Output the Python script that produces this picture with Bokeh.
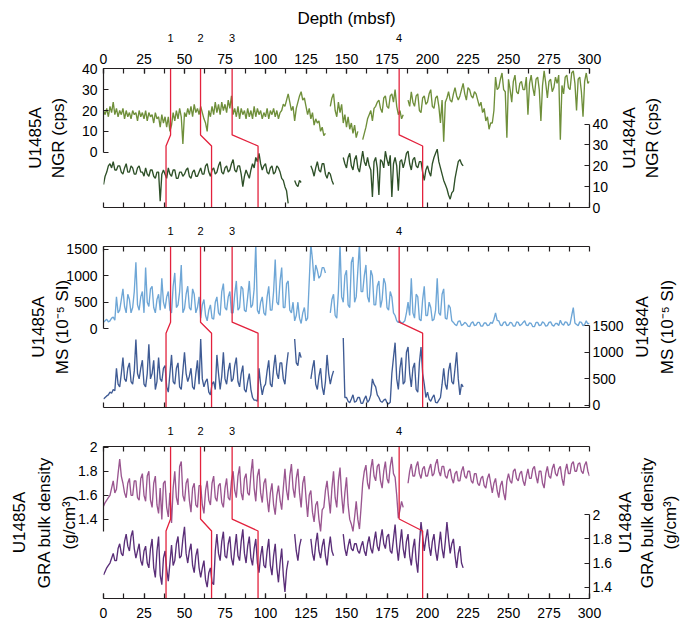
import math
from bokeh.plotting import figure
from bokeh.layouts import column, row
from bokeh.models import Range1d, LinearAxis, FixedTicker, Grid
from bokeh.embed import file_html
from bokeh.resources import INLINE

NaN = float("nan")
STEP = 1.0

# ---------------- data ----------------
ngr_u1485a = [
    20, 18, 21, 17, 22, 19, 24, 18, 21, 17,
    20, 18, 21, 16, 20, 17, 19, 16, 20, 18,
    19, 15, 20, 17, 19, 16, 20, 15, 19, 17,
    18, 14, 19, 16, 17, 12, 18, 14, 17, 12,
    17, 10, 13, 19, 15, 20, 16, 21, 17, 4,
    19, 17, 21, 18, 22, 17, 23, 19, 21, 18,
    22, 19, 16, 14, 10, 20, 17, 22, 18, 24,
    19, 23, 18, 24, 20, 23, 19, 25, 21, 27,
    18, 21, 17, 22, 16, 21, 18, 20, 16, 21,
    17, 20, 16, 22, 17, 21, 18, 20, 16, 19,
    17, 21, 16, 20, 18, 21, 17, 20, 16, 19,
    20, 23, 22, 25, 28, 24, 20, 22, 15, 21,
    24, 27, 29, 25, 26, 22, 18, 21, 16, 19,
    13, 16, 14, 15, 10, 12, 8, 9, NaN, NaN,
    22, 26, 28, 20, 17, 24, 19, 23, 14, 18,
    12, 17, 11, 14, 9, 13, 7, 10, NaN, NaN,
    6, 9, 12, 16, 18, 20, 15, 21, 22, 24,
    25, 21, 19, 26, 27, 22, 21, 27, 28, 24,
    30, 22, 18, 20, 16, 18, NaN, NaN, 25, 22,
    29, 24, 22, 27, 28, 20, 19, 26, 27, 23,
    24, 28, 30, 22, 21, 26, 27, 22, 14, 25,
    5, 24, 26, 29, 25, 24, 28, 31, 27, 25,
    27, 30, 33, 28, 25, 31, 30, 27, 26, 29,
    28, 25, 22, 24, 19, 21, 15, 17, 11, 14,
    14, 20, 36, 30, 31, 35, 38, 30, 29, 7,
    35, 30, 24, 34, 37, 29, 28, 33, 34, 30,
    30, 36, 18, 33, 37, 31, 27, 35, 36, 30,
    15, 32, 39, 33, 26, 34, 35, 29, 31, 36,
    33, 37, 6, 32, 28, 36, 37, 31, 30, 38,
    39, 33, 20, 35, 36, 29, 17, 34, 38, 33,
    34,
]
ngr_u1484a = [
    11, 15, 17, 20, 21, 19, 22, 18, 18, 20,
    20, 17, 16, 19, 21, 17, 17, 20, 19, 16,
    16, 19, 20, 17, 17, 15, 19, 16, 15, 18,
    18, 15, 14, 17, 17, 3, 16, 18, 16, 14,
    19, 16, 15, 18, 18, 14, 14, 17, 17, 15,
    16, 18, 19, 15, 14, 17, 18, 15, 15, 17,
    19, 16, 16, 20, 21, 17, 15, 18, 19, 16,
    17, 20, 22, 17, 16, 19, 20, 17, 18, 21,
    23, 18, 17, 20, 20, 16, 10, 15, 18, 16,
    14, 18, 21, 19, 24, 22, 26, 21, 18, 20,
    21, 17, 16, 19, 20, 16, 17, 20, 19, 17,
    14, 13, 10, 8, 2, NaN, NaN, NaN, 13, 11,
    10, 13, 12, NaN, NaN, NaN, NaN, NaN, 20, 18,
    15, 19, 22, 18, 17, 21, 21, 16, 14, 17,
    16, 13, 11, NaN, NaN, NaN, NaN, NaN, 24, 21,
    19, 24, 26, 20, 18, 23, 25, 19, 17, 22,
    27, 22, 20, 24, 20, 18, 5, 22, 24, 19,
    6, 23, 22, 19, 27, 23, 20, 25, 5, 21,
    24, 20, 8, 22, 23, 19, 22, 26, 27, 21,
    18, 23, 24, 20, 19, 22, 22, 17, 13, 18,
    20, 17, 15, 21, 24, 26, 28, 22, 19, 16,
    13, 11, 9, 6, 4, 7, 8, 14, 18, 22,
    23, 21, 20,
]
ms_u1485a = [
    126, 150, 180, 130, 150, 200, 220, 160, 600, 300,
    350, 550, 750, 420, 300, 650, 550, 300, 400, 700,
    1250, 450, 350, 600, 700, 300, 1150, 500, 420, 750,
    800, 400, 300, 550, 650, 350, 950, 500, 380, 600,
    700, 350, 300, 800, 1050, 400, 450, 700, 1200, 300,
    380, 650, 800, 400, 350, 750, 650, 300, 400, 600,
    200, 450, 550, 250, 150, 350, 450, 200, 180, 500,
    600, 300, 250, 700, 850, 400, 350, 600, 700, 300,
    300, 650, 900, 350, 400, 800, 750, 350, 320, 600,
    900, 400, 450, 750, 1600, 350, 280, 500, 600, 300,
    250, 600, 800, 350, 350, 700, 1300, 500, 450, 900,
    1150, 400, 400, 850, 900, 350, 300, 500, 150, 250,
    500, 200, 100, 300, 400, 150, 200, 900, 1600, 1300,
    900, 1200, 1100, 950, 1000, 1150, 1150, 1050, NaN, NaN,
    300, 550, 650, 250, 200, 700, 1600, 600, 500, 1000,
    1100, 450, 400, 1250, 1350, 500, 600, 1100, 1600, 700,
    700, 1000, 1200, 600, 500, 1100, 1000, 450, 450, 800,
    900, 400, 550, 950, 850, 400, 350, 700, 600, 300,
    250, 150, 120, 150, 100, 120, 150, 300, 500, 250,
    950, 300, 200, 650, 600, 180, 150, 550, 800, 250,
    250, 500, 400, 150, 180, 350, 950, 300, 250, 650,
    750, 200, 180, 450, 400, 150, 120, 80, 60, 140,
    150, 60, 80, 120, 100, 50, 40, 110, 130, 60,
    70, 120, 120, 50, 50, 110, 110, 60, 70, 120,
    100, 180, 300, 160, 150, 70, 60, 120, 130, 60,
    70, 120, 110, 50, 50, 130, 120, 60, 80, 120,
    150, 70, 60, 110, 100, 40, 40, 120, 120, 60,
    70, 130, 110, 50, 60, 120, 130, 70, 50, 100,
    100, 60, 160, 90, 70, 130, 120, 60, 90, 250,
    400, 110, 80, 60, 130, 120, 60, 80, 150, 90,
    110,
]
ms_u1484a = [
    120, 150, 180, 200, 250, 230, 300, 280, 700, 400,
    350, 600, 900, 500, 450, 700, 800, 450, 400, 650,
    1240, 600, 500, 700, 850, 400, 350, 600, 1150, 500,
    600, 850, 300, 450, 900, 500, 450, 700, 750, 350,
    250, 600, 950, 450, 400, 700, 800, 350, 300, 650,
    1000, 600, 450, 550, 700, 350, 300, 600, 850, 400,
    1250, 500, 350, 450, 500, 250, 200, 400, 450, 300,
    950, 600, 300, 550, 1000, 500, 400, 650, 800, 450,
    500, 750, 900, 450, 350, 600, 750, 300, 250, 450,
    600, 300, 150, 100, 100, 80, 700, 400, 200, 350,
    400, 650, 850, 400, 350, 700, 950, 600, 500, 800,
    800, 500, 400, 750, 1000, NaN, NaN, NaN, 1250, 800,
    750, 1000, 900, NaN, NaN, NaN, NaN, NaN, 500, 700,
    850, 400, 300, 550, 700, 350, 200, 450, 950, 600,
    400, 550, 650, NaN, NaN, NaN, NaN, NaN, 1270, 150,
    150, 80, 50, 120, 200, 60, 80, 150, 150, 40,
    40, 120, 180, 60, 100, 200, 500, 400, 350, 200,
    150, 80, 60, 100, 120, 50, 30, 60, 600, 900,
    1180, 500, 300, 700, 900, 400, 450, 1000, 1100, 600,
    350, 700, 800, 300, 250, 800, 1100, 600, 400, 150,
    250, 120, 80, 150, 200, 60, 50, 100, 150, 400,
    700, 400, 300, 650, 800, 450, 400, 700, 1000, 500,
    200, 400, 350,
]
gra_u1485a = [
    1.51, 1.54, 1.56, 1.58, 1.60, 1.66, 1.72, 1.62, 1.65, 1.78,
    1.90, 1.76, 1.70, 1.62, 1.58, 1.70, 1.74, 1.60, 1.60, 1.72,
    1.72, 1.58, 1.56, 1.74, 1.78, 1.60, 1.55, 1.76, 1.80, 1.56,
    1.50, 1.70, 1.76, 1.52, 1.45, 1.66, 1.40, 1.70, 1.72, 1.50,
    1.42, 1.62, 1.37, 1.66, 1.80, 1.58, 1.52, 1.84, 1.88, 1.60,
    1.55, 1.70, 1.74, 1.56, 1.46, 1.66, 1.70, 1.52, 1.50, 1.68,
    1.68, 1.52, 1.45, 1.64, 1.72, 1.56, 1.52, 1.70, 1.76, 1.58,
    1.55, 1.68, 1.70, 1.54, 1.50, 1.66, 1.74, 1.58, 1.56, 1.72,
    1.80, 1.64, 1.58, 1.76, 1.84, 1.62, 1.56, 1.74, 1.78, 1.62,
    1.60, 1.78, 1.90, 1.66, 1.55, 1.76, 1.82, 1.62, 1.54, 1.70,
    1.74, 1.58, 1.46, 1.62, 1.70, 1.52, 1.44, 1.60, 1.68, 1.56,
    1.48, 1.66, 1.82, 1.64, 1.56, 1.76, 1.86, 1.66, 1.58, 1.74,
    1.82, 1.62, 1.50, 1.70, 1.76, 1.58, 1.42, 1.60, 1.64, 1.46,
    1.38, 1.52, 1.55, 1.40, 1.30, 1.48, 1.50, 1.64, 1.72, 1.58,
    1.45, 1.66, 1.80, 1.58, 1.50, 1.72, 1.83, 1.60, 1.45, 1.62,
    1.75, 1.52, 1.40, 1.36, 1.30, 1.42, 1.55, 1.40, 1.32, 1.50,
    1.70, 1.80, 1.85, 1.70, 1.65, 1.82, 1.90, 1.76, 1.72, 1.84,
    1.86, 1.72, 1.66, 1.80, 1.88, 1.74, 1.70, 1.84, 1.92, 1.78,
    1.75, 1.60, 1.41, 1.48, 1.55, 1.50, NaN, NaN, 1.70, 1.80,
    1.86, 1.76, 1.76, 1.84, 1.88, 1.78, 1.74, 1.82, 1.84, 1.76,
    1.76, 1.82, 1.86, 1.76, 1.78, 1.86, 1.90, 1.80, 1.76, 1.84,
    1.84, 1.76, 1.74, 1.80, 1.82, 1.74, 1.70, 1.78, 1.80, 1.72,
    1.72, 1.80, 1.84, 1.76, 1.74, 1.80, 1.80, 1.72, 1.70, 1.78,
    1.78, 1.70, 1.68, 1.74, 1.76, 1.68, 1.66, 1.74, 1.78, 1.70,
    1.62, 1.70, 1.74, 1.64, 1.58, 1.68, 1.72, 1.62, 1.56, 1.72,
    1.78, 1.72, 1.70, 1.80, 1.82, 1.74, 1.72, 1.78, 1.80, 1.72,
    1.68, 1.76, 1.82, 1.74, 1.74, 1.82, 1.84, 1.76, 1.70, 1.80,
    1.80, 1.70, 1.66, 1.78, 1.84, 1.76, 1.74, 1.82, 1.86, 1.78,
    1.76, 1.82, 1.84, 1.74, 1.68, 1.80, 1.86, 1.78, 1.78, 1.86,
    1.88, 1.80, 1.80, 1.86, 1.87, 1.80, 1.78, 1.85, 1.88, 1.80,
    1.76,
]
gra_u1484a = [
    1.50, 1.53, 1.56, 1.58, 1.60, 1.64, 1.68, 1.62, 1.62, 1.72,
    1.76, 1.68, 1.66, 1.78, 1.84, 1.74, 1.70, 1.82, 1.87, 1.72,
    1.64, 1.70, 1.76, 1.62, 1.58, 1.70, 1.74, 1.60, 1.56, 1.72,
    1.80, 1.56, 1.48, 1.70, 1.82, 1.50, 1.42, 1.64, 1.70, 1.55,
    1.45, 1.60, 1.75, 1.58, 1.62, 1.76, 1.82, 1.64, 1.66, 1.80,
    1.90, 1.68, 1.60, 1.70, 1.76, 1.58, 1.52, 1.66, 1.72, 1.56,
    1.48, 1.56, 1.62, 1.46, 1.40, 1.52, 1.56, 1.44, 1.42, 1.70,
    1.84, 1.68, 1.62, 1.78, 1.86, 1.66, 1.64, 1.76, 1.82, 1.64,
    1.58, 1.72, 1.84, 1.66, 1.62, 1.78, 1.88, 1.68, 1.60, 1.74,
    1.82, 1.64, 1.58, 1.72, 1.80, 1.60, 1.52, 1.66, 1.74, 1.58,
    1.56, 1.70, 1.80, 1.58, 1.50, 1.66, 1.76, 1.56, 1.44, 1.60,
    1.72, 1.50, 1.36, 1.54, 1.62, NaN, NaN, NaN, 1.84, 1.70,
    1.62, 1.74, 1.80, NaN, NaN, NaN, NaN, NaN, 1.80, 1.68,
    1.62, 1.76, 1.85, 1.70, 1.64, 1.74, 1.80, 1.66, 1.58, 1.72,
    1.82, 1.70, 1.66, NaN, NaN, NaN, NaN, NaN, 1.84, 1.72,
    1.66, 1.74, 1.80, 1.72, 1.70, 1.76, 1.76, 1.70, 1.68, 1.74,
    1.78, 1.70, 1.66, 1.76, 1.82, 1.72, 1.68, 1.78, 1.86, 1.74,
    1.70, 1.80, 1.88, 1.76, 1.72, 1.82, 1.84, 1.70, 1.68, 1.80,
    1.92, 1.74, 1.62, 1.76, 1.88, 1.72, 1.64, 1.78, 1.84, 1.66,
    1.58, 1.72, 1.80, 1.62, 1.52, 1.76, 1.94, 1.82, 1.70, 1.80,
    1.88, 1.74, 1.66, 1.78, 1.84, 1.70, 1.62, 1.74, 1.86, 1.72,
    1.64, 1.78, 1.94, 1.80, 1.68, 1.76, 1.80, 1.66, 1.56, 1.68,
    1.74, 1.60, 1.56,
]

# correlation tie points (mbsf)
tie_labels = ["1", "2", "3", "4"]
tie_u1485a = [41.4, 59.9, 79.4, 182.5]
tie_u1484a = [38.6, 66.7, 95.4, 197.0]

depth_ticks = [0, 25, 50, 75, 100, 125, 150, 175, 200, 225, 250, 275, 300]
depth_minor = [0, 12.5, 25, 37.5, 50, 62.5, 75, 87.5, 100, 112.5, 125, 137.5, 150,
               162.5, 175, 187.5, 200, 212.5, 225, 237.5, 250, 262.5, 275, 287.5, 300]

ngr_ticks = [0, 10, 20, 30, 40]
ms_ticks = [0, 500, 1000, 1500]
gra_ticks = [1.4, 1.6, 1.8, 2.0]

FONT = "Liberation Sans"
AXC = "#231f20"
RED = "#e3223d"
FRAME_L, FRAME_R = 103, 589   # page x of the depth axis ends


def depths(vals):
    return [i * STEP for i in range(len(vals))]


def style(ax, size="14px"):
    ax.axis_line_color = AXC
    ax.axis_line_width = 1.2
    ax.major_tick_line_color = AXC
    ax.minor_tick_line_color = AXC
    ax.major_tick_line_width = 1.2
    ax.minor_tick_line_width = 1.2
    ax.major_tick_in = 5
    ax.major_tick_out = 0
    ax.minor_tick_in = 5
    ax.minor_tick_out = 0
    ax.major_label_text_font = FONT
    ax.major_label_text_font_size = size
    ax.major_label_text_color = "black"
    ax.axis_label_text_font = FONT
    ax.axis_label_text_font_size = "17px"
    ax.axis_label_text_font_style = "normal"
    ax.axis_label_text_color = "black"
    return ax


def title_axis(text, standoff, bounds, range_name="default"):
    """An axis showing only its (vertical, bottom-to-top) label: one title line."""
    ax = style(LinearAxis(y_range_name=range_name, ticker=FixedTicker(ticks=[]),
                          bounds=bounds, axis_label=text))
    ax.axis_line_color = None
    ax.major_tick_line_color = None
    ax.minor_tick_line_color = None
    ax.major_label_standoff = 0
    ax.axis_label_standoff = standoff
    return ax


def panel(height, btop, bbot, right_x, lo, up, va, vb, ca, cb, yticks, bl, br,
          brk, first, last, tie_so, left_titles, right_titles, overrides=None):
    p = figure(width=right_x, height=height, x_range=Range1d(0, 300),
               y_range=Range1d(*lo), output_backend="svg", toolbar_location=None,
               x_axis_location=None, y_axis_location=None,
               min_border_left=FRAME_L, min_border_right=right_x - FRAME_R,
               min_border_top=btop, min_border_bottom=bbot)
    p.extra_y_ranges = {"up": Range1d(*up)}
    p.outline_line_color = None
    p.center = [c for c in p.center if not isinstance(c, Grid)]

    p.line(depths(va), va, y_range_name="up", color=ca, line_width=1.35)
    p.line(depths(vb), vb, color=cb, line_width=1.35)

    xs = [[a, a, b, b] for a, b in zip(tie_u1485a, tie_u1484a)]
    ys = [[lo[1], brk[0], brk[1], lo[0]] for _ in tie_u1485a]
    p.multi_line(xs, ys, color=RED, line_width=1.3)

    la = style(LinearAxis(y_range_name="up", ticker=FixedTicker(ticks=yticks), bounds=bl))
    la.major_label_standoff = 6
    ra = style(LinearAxis(ticker=FixedTicker(ticks=yticks), bounds=br))
    ra.major_label_standoff = 3
    if overrides:
        la.major_label_overrides = dict(overrides)
        ra.major_label_overrides = dict(overrides)
    p.add_layout(la, "left")
    p.add_layout(ra, "right")
    # left-hand title lines, innermost first
    for text, so, tb in left_titles:
        p.add_layout(title_axis(text, so, tb, "up"), "left")

    tie_map = {t: l for t, l in zip(tie_u1485a, tie_labels)}
    if first:
        dax = style(LinearAxis(ticker=FixedTicker(ticks=depth_ticks, minor_ticks=depth_minor)))
        dax.major_label_standoff = 5
        p.add_layout(dax, "above")
        tax = style(LinearAxis(ticker=FixedTicker(ticks=tie_u1485a),
                               axis_label="Depth (mbsf)"), size="11px")
        tax.axis_line_color = None
        tax.major_tick_line_color = None
        tax.minor_tick_line_color = None
        tax.major_label_standoff = tie_so
        tax.axis_label_standoff = 3
        tax.major_label_overrides = tie_map
        p.add_layout(tax, "above")
    else:
        tax = style(LinearAxis(ticker=FixedTicker(ticks=tie_u1485a, minor_ticks=depth_minor)),
                    size="11px")
        tax.major_tick_line_color = None
        tax.major_label_standoff = tie_so
        tax.major_label_overrides = tie_map
        p.add_layout(tax, "above")

    if last:
        bax = style(LinearAxis(ticker=FixedTicker(ticks=depth_ticks, minor_ticks=depth_minor)))
        bax.major_label_standoff = 9
    else:
        bax = style(LinearAxis(ticker=FixedTicker(ticks=[], minor_ticks=depth_minor)))
        bax.major_label_standoff = 0
    p.add_layout(bax, "below")

    # right-hand titles: a narrow companion plot whose left-side title axes
    # read bottom-to-top like the reference
    sw = 684 - right_x
    s = figure(width=sw, height=height, x_range=Range1d(0, 1), y_range=Range1d(*lo),
               output_backend="svg", toolbar_location=None,
               x_axis_location=None, y_axis_location=None,
               min_border_left=sw - 2, min_border_right=0,
               min_border_top=btop, min_border_bottom=bbot)
    s.outline_line_color = None
    s.center = [c for c in s.center if not isinstance(c, Grid)]
    for text, so, tb in right_titles:      # outermost (rightmost) line first
        s.add_layout(title_axis(text, so, tb), "left")
    return row(p, s, spacing=0)


# ---- panel 1: NGR
row1 = panel(215, 68, 8, 615, (0, 66.67), (-26.52, 40.15), ngr_u1485a, ngr_u1484a,
             "#6f8f3a", "#2e5028", ngr_ticks, (0, 40), (0, 40), (34.8, 29.5),
             True, False, 9,
             [("NGR (cps)", 11, (0, 40)), ("U1485A", 1, (0, 40))],
             [("NGR (cps)", 21, (0, 40)), ("U1484A", 1, (0, 40))])

# ---- panel 2: MS
row2 = panel(200, 31, 8, 630, (-38, 2988), (-1479, 1547), ms_u1485a, ms_u1484a,
             "#6ea6d6", "#3f5b94", ms_ticks, (0, 1547), (-38, 1500), (1565, 1359),
             False, False, 12,
             [("MS (10\u207b\u2075 SI)", -8, (0, 1547)), ("U1485A", 2, (0, 1547))],
             [("MS (10\u207b\u2075 SI)", 8, (-38, 1800)), ("U1484A", 3, (-38, 1800))])

# ---- panel 3: GRA bulk density
row3 = panel(209, 31, 26, 617, (1.3056, 2.567), (0.7436, 2.005), gra_u1485a, gra_u1484a,
             "#9a5690", "#5a2e78", gra_ticks, (1.3, 2.005), (1.3056, 2.0), (1.965, 1.866),
             False, True, 12,
             [("(g/cm\u00b3)", -3, (1.357, 2.005)),
              ("GRA bulk density", 3, (0.885, 2.005)),
              ("U1485A", 3, (1.357, 2.005))],
             [("(g/cm\u00b3)", 5, (1.433, 2.033)),
              ("GRA bulk density", 1, (1.3056, 2.426)),
              ("U1484A", 0, (1.433, 2.033))],
             overrides={2.0: "2"})

layout = column(row1, row2, row3, spacing=0)
open("out.html", "w").write(file_html(layout, INLINE))
